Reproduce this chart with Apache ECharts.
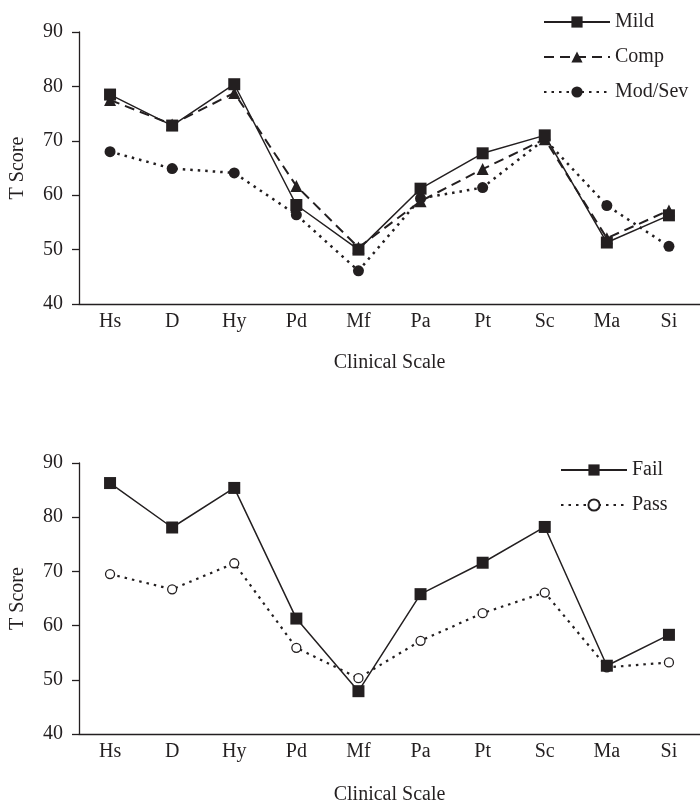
<!DOCTYPE html>
<html><head><meta charset="utf-8">
<script src="https://cdn.jsdelivr.net/npm/echarts@6/dist/echarts.min.js"></script>
<style>html,body{margin:0;padding:0;background:#fff}#c{width:700px;height:806px}</style>
</head><body><div id="c"></div>
<script>
var categories = ['Hs','D','Hy','Pd','Mf','Pa','Pt','Sc','Ma','Si'];
var yTicks = [40, 50, 60, 70, 80, 90];
var mild   = [78.5, 72.8, 80.4, 58.2, 50.0, 61.2, 67.7, 71.0, 51.3, 56.3];
var comp   = [77.5, 73.0, 78.8, 61.7, 50.4, 58.9, 64.8, 70.3, 52.1, 57.2];
var modSev = [68.0, 64.9, 64.1, 56.4, 46.1, 59.4, 61.4, 70.3, 58.1, 50.6];
var fail   = [86.3, 78.1, 85.4, 61.3, 47.9, 65.8, 71.6, 78.2, 52.6, 58.3];
var pass   = [69.5, 66.7, 71.5, 55.9, 50.3, 57.2, 62.3, 66.1, 52.3, 53.2];
var xName = 'Clinical Scale';
var yName = 'T Score';

var INK = '#231f20';
var FONT = '"Liberation Serif", "DejaVu Serif", serif';
var FS = 20;
var chart = echarts.init(document.getElementById('c'), null, {renderer: 'canvas'});

function xAxes(gi, nameGap) {
  return [{
    type: 'category', gridIndex: gi, data: categories, boundaryGap: true, position: 'bottom',
    axisLine: {lineStyle: {color: INK, width: 1.3}},
    axisTick: {inside: true, length: 5, lineStyle: {color: INK, width: 1.3}},
    axisLabel: {color: INK, fontFamily: FONT, fontSize: FS, margin: 8},
    name: xName, nameLocation: 'middle', nameGap: nameGap,
    nameTextStyle: {color: INK, fontFamily: FONT, fontSize: FS}
  }, {
    type: 'category', gridIndex: gi, data: categories, boundaryGap: true, position: 'bottom',
    axisLine: {show: false},
    axisTick: {inside: true, length: 5, alignWithLabel: true, lineStyle: {color: INK, width: 1.3}},
    axisLabel: {show: false}
  }];
}
function yAxis(gi) {
  return {
    type: 'value', gridIndex: gi, min: yTicks[0], max: yTicks[yTicks.length - 1], interval: 10,
    splitLine: {show: false},
    axisLine: {show: true, lineStyle: {color: INK, width: 1.3}},
    axisTick: {show: true, length: 7, lineStyle: {color: INK, width: 1.3}},
    axisLabel: {color: INK, fontFamily: FONT, fontSize: FS, margin: 16},
    name: yName, nameLocation: 'middle', nameGap: 51, nameRotate: 90,
    nameTextStyle: {color: INK, fontFamily: FONT, fontSize: FS}
  };
}

var legendText = {color: INK, fontFamily: FONT, fontSize: FS, lineHeight: 20};

chart.setOption({
  animation: false,
  backgroundColor: '#fff',
  grid: [
    {left: 78, top: 32, width: 631, height: 272},
    {left: 78, top: 463, width: 631, height: 273}
  ],
  xAxis: xAxes(0, 49).concat(xAxes(1, 51)),
  yAxis: [yAxis(0), yAxis(1)],
  legend: [
    {orient: 'vertical', left: 543, top: 12, padding: 0, itemWidth: 66, itemHeight: 14, itemGap: 15,
     textStyle: legendText, data: ['Mild', 'Comp', 'Mod/Sev']},
    {orient: 'vertical', left: 560, top: 460, padding: 0, itemWidth: 66, itemHeight: 14, itemGap: 15,
     textStyle: legendText, data: ['Fail', 'Pass']}
  ],
  series: [
    {name: 'Mod/Sev', type: 'line', xAxisIndex: 0, yAxisIndex: 0, data: modSev,
     symbol: 'circle', symbolSize: 11, z: 2,
     lineStyle: {color: INK, width: 2.5, type: [2.5, 5]},
     itemStyle: {color: INK, borderWidth: 0}},
    {name: 'Comp', type: 'line', xAxisIndex: 0, yAxisIndex: 0, data: comp,
     symbol: 'triangle', symbolSize: 12, z: 3,
     lineStyle: {color: INK, width: 2, type: [10, 6]},
     itemStyle: {color: INK, borderWidth: 0}},
    {name: 'Mild', type: 'line', xAxisIndex: 0, yAxisIndex: 0, data: mild,
     symbol: 'rect', symbolSize: 12, z: 4,
     lineStyle: {color: INK, width: 1.5, type: 'solid'},
     itemStyle: {color: INK, borderWidth: 0}},
    {name: 'Pass', type: 'line', xAxisIndex: 2, yAxisIndex: 1, data: pass,
     symbol: 'circle', symbolSize: 9, z: 2,
     lineStyle: {color: INK, width: 2.2, type: [2.5, 5]},
     itemStyle: {color: '#fff', borderColor: INK, borderWidth: 1.3}},
    {name: 'Fail', type: 'line', xAxisIndex: 2, yAxisIndex: 1, data: fail,
     symbol: 'rect', symbolSize: 12, z: 3,
     lineStyle: {color: INK, width: 1.5, type: 'solid'},
     itemStyle: {color: INK, borderWidth: 0}}
  ]
});
</script>
</body></html>
